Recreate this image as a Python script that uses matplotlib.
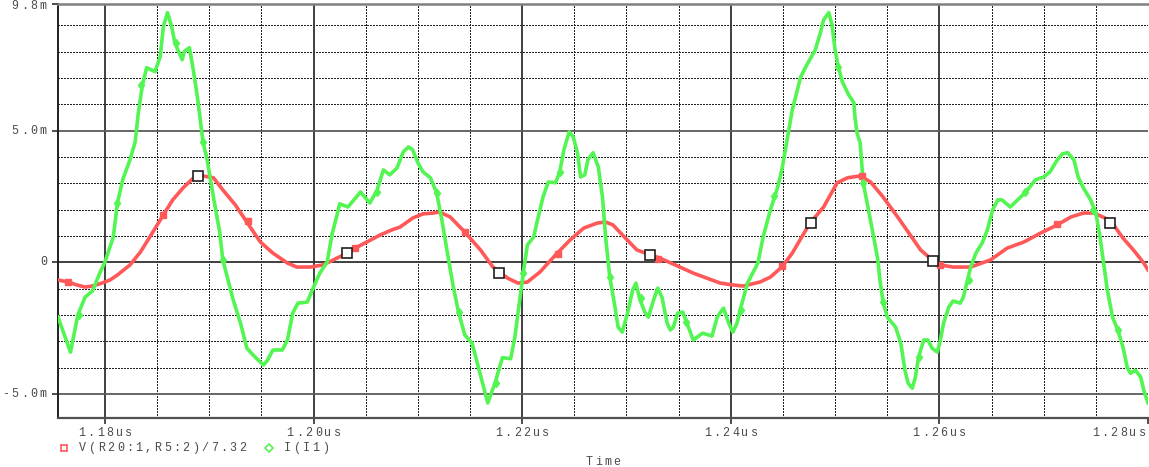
import matplotlib
matplotlib.use("Agg")
import matplotlib.pyplot as plt
from matplotlib import transforms
from matplotlib.lines import Line2D

# ---------------- data (time in ns, values in milli-units) ----------------
v_time = [1175.5, 1176.5, 1177.3, 1178.1, 1178.8, 1179.7, 1180.5, 1181.2, 1182.4, 1183.4,
          1184.3, 1185.6, 1186.5, 1187.5, 1188.4, 1189.4, 1190.4, 1191.3, 1192.5, 1193.6,
          1194.9, 1196.1, 1197.5, 1198.4, 1199.7, 1200.9, 1201.9, 1203.2, 1204.0, 1205.1,
          1206.4, 1207.5, 1208.3, 1209.5, 1210.5, 1211.5, 1212.1, 1213.1, 1214.5, 1216.0,
          1217.2, 1218.6, 1219.6, 1220.5, 1221.7, 1223.2, 1224.6, 1225.9, 1227.2, 1228.0,
          1228.7, 1229.9, 1231.0, 1232.3, 1233.2, 1234.9, 1236.4, 1237.7, 1239.0, 1240.2,
          1241.2, 1242.8, 1243.8, 1244.9, 1245.9, 1246.7, 1247.6, 1248.9, 1250.2, 1251.2,
          1252.4, 1253.4, 1254.6, 1256.0, 1257.2, 1258.2, 1259.1, 1260.1, 1261.3, 1263.0,
          1264.9, 1266.5, 1268.1, 1269.7, 1271.3, 1272.6, 1273.8, 1274.8, 1275.9, 1276.7,
          1277.6, 1278.6, 1279.6, 1280.0]
v_value = [-0.67, -0.75, -0.86, -0.94, -0.90, -0.79, -0.67, -0.48, -0.10, 0.39,
           0.96, 1.80, 2.37, 2.83, 3.17, 3.28, 3.21, 2.75, 2.18, 1.53,
           0.77, 0.35, -0.03, -0.18, -0.18, -0.10, 0.09, 0.35, 0.54, 0.77,
           1.04, 1.23, 1.34, 1.68, 1.84, 1.87, 1.91, 1.72, 1.15, 0.47,
           -0.18, -0.60, -0.79, -0.75, -0.37, 0.28, 0.85, 1.30, 1.49, 1.53,
           1.42, 0.92, 0.47, 0.28, 0.16, -0.14, -0.41, -0.60, -0.79, -0.86,
           -0.90, -0.75, -0.56, -0.18, 0.35, 0.89, 1.49, 2.10, 3.02, 3.21,
           3.28, 3.05, 2.48, 1.72, 1.04, 0.47, 0.16, -0.10, -0.18, -0.18,
           0.09, 0.54, 0.77, 1.11, 1.42, 1.72, 1.87, 1.87, 1.68, 1.42,
           0.92, 0.47, -0.03, -0.29]

# trace symbols on V(R20:1,R5:2)/7.32
v_sym_time = [1176.5, 1185.6, 1193.7, 1204.0, 1214.5, 1223.4, 1233.0, 1244.9, 1252.6, 1260.1, 1271.3]
v_sym_value = [-0.75, 1.80, 1.57, 0.54, 1.15, 0.32, 0.13, -0.14, 3.28, -0.10, 1.46]

# probe cursor boxes sitting on the voltage trace
box_time = [1188.9, 1203.2, 1217.8, 1232.3, 1247.7, 1259.4, 1276.4]
box_value = [3.28, 0.35, -0.41, 0.28, 1.49, 0.05, 1.49]

i_time = [1175.5, 1176.7, 1177.4, 1178.1, 1178.8, 1179.5, 1180.0, 1180.8, 1181.2, 1181.7,
          1182.4, 1182.9, 1183.2, 1183.6, 1184.0, 1184.8, 1185.3, 1185.6, 1186.0, 1186.4,
          1186.7, 1187.4, 1187.6, 1188.1, 1188.5, 1188.9, 1189.4, 1189.8, 1190.4, 1191.0,
          1191.3, 1191.8, 1192.3, 1193.0, 1193.6, 1194.4, 1195.2, 1195.6, 1196.1, 1197.0,
          1197.5, 1198.0, 1198.5, 1199.4, 1200.0, 1200.6, 1201.3, 1201.8, 1202.3, 1202.5,
          1203.3, 1204.5, 1205.4, 1206.1, 1206.7, 1207.3, 1208.0, 1208.6, 1209.1, 1209.5,
          1210.0, 1210.5, 1211.2, 1211.8, 1212.3, 1212.9, 1213.4, 1213.9, 1214.5, 1215.2,
          1215.8, 1216.3, 1216.7, 1217.4, 1218.1, 1218.9, 1219.3, 1219.8, 1220.1, 1220.5,
          1221.1, 1221.4, 1222.0, 1222.5, 1223.2, 1223.6, 1224.0, 1224.5, 1224.9, 1225.3,
          1225.6, 1226.0, 1226.3, 1226.8, 1227.3, 1227.7, 1228.0, 1228.4, 1228.9, 1229.2,
          1229.6, 1230.1, 1230.6, 1230.9, 1231.3, 1231.8, 1232.1, 1232.6, 1233.0, 1233.4,
          1233.9, 1234.2, 1234.5, 1234.9, 1235.4, 1235.8, 1236.4, 1237.3, 1238.2, 1238.7,
          1239.3, 1239.8, 1240.2, 1240.6, 1240.9, 1241.6, 1242.1, 1242.6, 1243.1, 1243.8,
          1244.5, 1244.9, 1245.4, 1245.9, 1246.7, 1247.3, 1248.1, 1248.6, 1248.9, 1249.4,
          1249.7, 1250.0, 1250.3, 1250.7, 1251.3, 1251.8, 1251.9, 1252.1, 1252.4, 1252.7,
          1253.2, 1253.7, 1254.1, 1254.3, 1254.6, 1255.0, 1255.8, 1256.3, 1256.7, 1257.0,
          1257.4, 1257.7, 1258.0, 1258.5, 1258.9, 1259.3, 1259.8, 1260.1, 1260.4, 1260.9,
          1261.3, 1262.0, 1262.3, 1262.7, 1263.0, 1263.5, 1264.1, 1264.6, 1265.1, 1265.6,
          1266.0, 1266.8, 1267.5, 1268.3, 1269.2, 1270.0, 1270.6, 1271.3, 1271.8, 1272.3,
          1272.9, 1273.3, 1273.8, 1274.5, 1275.0, 1275.4, 1275.7, 1276.1, 1276.6, 1277.1,
          1277.6, 1278.0, 1278.3, 1278.8, 1279.3, 1279.6, 1280.0]
i_value = [-2.08, -3.41, -2.00, -1.32, -1.09, -0.41, 0.01, 0.96, 2.25, 3.13,
           3.89, 4.57, 5.68, 6.74, 7.39, 7.24, 7.81, 8.95, 9.48, 8.95,
           8.34, 7.69, 8.00, 8.15, 7.24, 6.17, 4.57, 3.89, 2.48, 1.15,
           0.09, -0.67, -1.43, -2.31, -3.26, -3.60, -3.90, -3.71, -3.33, -3.33,
           -2.95, -1.93, -1.55, -1.51, -0.94, -0.41, 0.01, 1.11, 1.87, 2.22,
           2.10, 2.67, 2.25, 2.75, 3.51, 3.32, 3.58, 4.19, 4.38, 4.27,
           3.78, 3.43, 3.21, 2.64, 1.61, 0.20, -0.94, -1.89, -2.76, -3.07,
           -3.98, -4.73, -5.34, -4.58, -3.62, -3.66, -2.84, -1.32, -0.41, 0.66,
           0.96, 1.49, 2.48, 3.05, 3.02, 3.43, 4.27, 4.95, 4.76, 4.16,
           3.24, 3.32, 3.89, 4.16, 3.62, 2.48, 0.96, -0.56, -1.70, -2.46,
           -2.65, -1.93, -1.05, -0.79, -1.43, -1.93, -2.08, -1.43, -0.98, -1.32,
           -2.31, -2.57, -2.46, -1.93, -1.89, -2.31, -2.95, -2.69, -2.80, -2.08,
           -1.74, -2.31, -2.65, -2.31, -1.81, -0.79, -0.41, -0.03, 0.96, 1.99,
           2.86, 3.51, 4.65, 5.79, 7.04, 7.50, 8.07, 8.72, 9.21, 9.48,
           9.02, 8.07, 7.43, 6.85, 6.36, 6.06, 5.53, 4.92, 4.54, 3.02,
           1.99, 0.96, 0.09, -0.67, -1.51, -2.08, -2.46, -3.07, -4.10, -4.59,
           -4.78, -4.36, -3.60, -2.95, -2.95, -3.26, -3.41, -2.95, -2.31, -1.70,
           -1.47, -1.55, -1.32, -0.67, -0.18, 0.35, 0.73, 1.23, 1.99, 2.37,
           2.37, 2.10, 2.37, 2.67, 3.13, 3.24, 3.43, 3.89, 4.12, 4.16,
           3.89, 3.24, 2.83, 2.37, 1.87, 0.96, 0.09, -1.05, -2.08, -2.57,
           -3.22, -3.98, -4.21, -4.10, -4.36, -4.86, -5.34]

# trace symbols on I(I1)
i_sym_time = [1177.5, 1181.2, 1183.5, 1186.8, 1189.4, 1191.3, 1206.1, 1211.8, 1213.9, 1217.5,
              1220.1, 1223.6, 1228.4, 1231.4, 1235.7, 1241.0, 1244.1, 1250.3, 1252.7, 1254.6,
              1258.0, 1262.8, 1268.2, 1274.7, 1277.1]
i_sym_value = [-2.00, 2.25, 6.74, 8.34, 4.57, 0.09, 2.67, 2.64, -1.89, -4.60,
               -0.41, 3.43, -0.56, -1.36, -2.27, -1.81, 2.52, 7.43, 3.02, -1.51,
               -3.60, -0.67, 2.67, 1.99, -2.57]

x_major = [1180, 1200, 1220, 1240, 1260, 1280]
x_labels = ["1.18us", "1.20us", "1.22us", "1.24us", "1.26us", "1.28us"]
y_major = [-5.0, 0.0, 5.0, 9.8]
y_labels = ["-5.0m", "0", "5.0m", "9.8m"]
series_labels = ["V(R20:1,R5:2)/7.32", "I(I1)"]
x_title = "Time"

# ---------------- styling ----------------
W, H, DPI = 1149, 467, 100
RED = "#ff5858"
GREEN = "#52f552"
TXT = "#4a4a4a"
PITCH = 9.4          # character advance in pixels
FONT = dict(family="Liberation Mono", size=8.4, color=TXT)

plt.rcParams["lines.scale_dashes"] = False

fig = plt.figure(figsize=(W / DPI, H / DPI), dpi=DPI, facecolor="white")
L, R, T, B = 58, 1148, 4.2, 417.7
ax = fig.add_axes([L / W, 1 - B / H, (R - L) / W, (B - T) / H])
ax.set_xlim(1175.5, 1280.0)
ax.set_ylim(-5.9, 9.8)

# grid: dotted minor lines, solid major lines
dots = (0, (1.44, 1.44))
for xv in range(1185, 1280, 5):
    if xv % 20:
        ax.axvline(xv, color="#202020", lw=0.72, ls=dots, antialiased=False, zorder=1)
for yv in range(-5, 10):
    if yv % 5:
        ax.axhline(yv, color="#202020", lw=0.72, ls=dots, antialiased=False, zorder=1)
for xv in x_major[:-1]:
    ax.axvline(xv, color="#303030", lw=1.3, zorder=1.5)
for yv in (-5, 0, 5):
    ax.axhline(yv, color="#303030" if yv == 0 else "#5a5a5a", lw=1.3, zorder=1.5)

# traces
ax.plot(v_time, v_value, color=RED, lw=2.6, solid_joinstyle="round", zorder=3)
ax.plot(i_time, i_value, color=GREEN, lw=2.6, solid_joinstyle="round", zorder=3)
ax.plot(v_sym_time, v_sym_value, ls="none", marker="s", ms=3.8, color=RED, zorder=4)
ax.plot(i_sym_time, i_sym_value, ls="none", marker="d", ms=4.5, color=GREEN, zorder=4)
ax.plot(box_time, box_value, ls="none", marker="s", ms=7, mfc="white", mec="#202020",
        mew=1.2, zorder=5)

# frame
ax.spines["right"].set_visible(False)
ax.spines["left"].set_color("#202020")
ax.spines["left"].set_linewidth(1.4)
ax.spines["bottom"].set_color("#505050")
ax.spines["bottom"].set_linewidth(1.6)
ax.spines["top"].set_color("#808080")
ax.spines["top"].set_linewidth(1.8)

ax.set_xticks(x_major)
ax.set_yticks(y_major)
ax.tick_params(axis="both", direction="out", length=4.3, width=1.2, color="#303030",
               labelbottom=False, labelleft=False)


def spaced_text(x, y, s, transform, dx=0.0, dy=0.0, ha="center", **kw):
    """Draw a string with a fixed per-character advance (in pixels)."""
    n = len(s)
    start = {"center": -n * PITCH / 2, "left": 0.0, "right": -n * PITCH}[ha]
    for k, ch in enumerate(s):
        if ch == " ":
            continue
        tr = transforms.offset_copy(transform, fig=fig,
                                    x=dx + start + (k + 0.5) * PITCH, y=dy, units="dots")
        fig.text(x, y, ch, transform=tr, ha="center", va="center", **kw)


# tick labels
xt = transforms.blended_transform_factory(ax.transData, ax.transAxes)
for xv, lab in zip(x_major, x_labels):
    if xv == x_major[-1]:
        spaced_text(xv, 0, lab, xt, dx=-1, dy=-15, ha="right", **FONT)
    else:
        spaced_text(xv, 0, lab, xt, dy=-15, ha="center", **FONT)

yt = transforms.blended_transform_factory(ax.transAxes, ax.transData)
for yv, lab in zip(y_major, y_labels):
    spaced_text(0, yv, lab, yt, dx=-10, dy=(-2 if yv == y_major[-1] else 0), ha="right", **FONT)

# legend and axis title in pixel coordinates
pix = transforms.IdentityTransform()
fig.add_artist(Line2D([64], [H - 448], transform=pix, ls="none", marker="s", ms=4.2,
                      mfc="white", mec=RED, mew=1.2))
spaced_text(78, H - 448, series_labels[0], pix, ha="left", **FONT)
fig.add_artist(Line2D([269], [H - 448], transform=pix, ls="none", marker="D", ms=3.6,
                      mfc="white", mec=GREEN, mew=1.2))
spaced_text(283, H - 448, series_labels[1], pix, ha="left", **FONT)
spaced_text((L + R) / 2, H - 462, x_title, pix, ha="center", **FONT)

fig.savefig("out.png", dpi=DPI, facecolor="white")
